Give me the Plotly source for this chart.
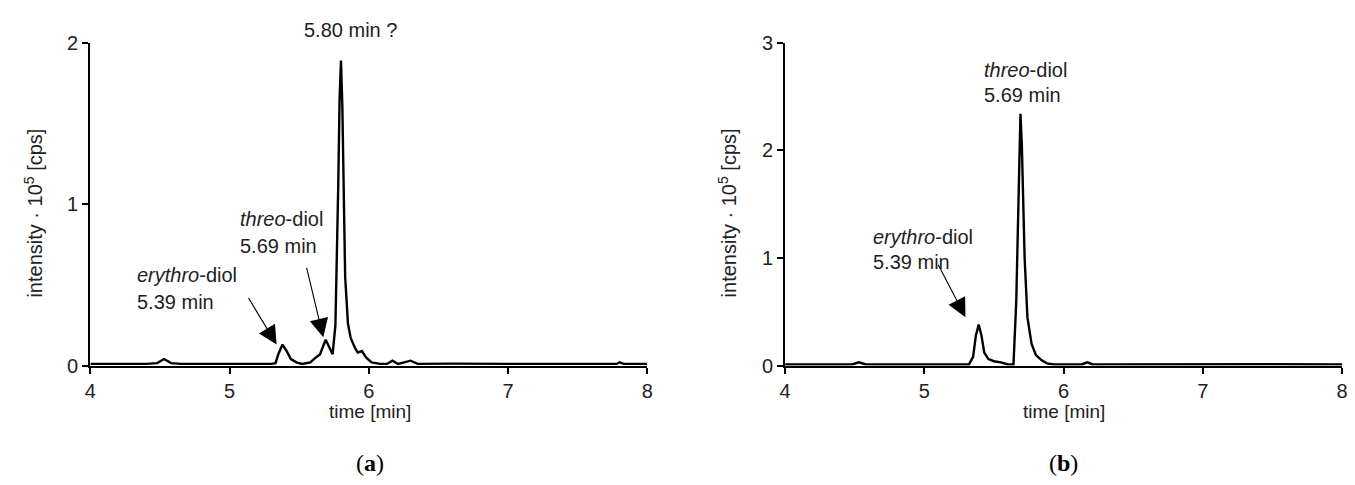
import plotly.graph_objects as go

# ---- data: panel (a) ----
time_a = [4.00, 4.20, 4.40, 4.48, 4.53, 4.58, 4.65, 5.00, 5.30, 5.33, 5.35, 5.38, 5.41, 5.44,
          5.48, 5.52, 5.58, 5.62, 5.65, 5.69, 5.72, 5.74, 5.76, 5.77, 5.78, 5.79, 5.80, 5.81,
          5.82, 5.83, 5.85, 5.87, 5.90, 5.92, 5.95, 5.98, 6.02, 6.08, 6.13, 6.17, 6.21, 6.26,
          6.30, 6.35, 6.60, 7.00, 7.40, 7.78, 7.80, 7.83, 8.00]
intensity_a = [0.01, 0.01, 0.01, 0.015, 0.04, 0.015, 0.01, 0.01, 0.01, 0.015, 0.07, 0.13, 0.09, 0.04,
               0.02, 0.01, 0.02, 0.05, 0.07, 0.16, 0.10, 0.07, 0.25, 0.6, 1.1, 1.65, 1.89, 1.6,
               1.0, 0.55, 0.26, 0.17, 0.11, 0.08, 0.09, 0.05, 0.02, 0.01, 0.01, 0.03, 0.01, 0.02,
               0.03, 0.01, 0.012, 0.01, 0.012, 0.01, 0.02, 0.01, 0.01]

# ---- data: panel (b) ----
time_b = [4.00, 4.20, 4.48, 4.53, 4.58, 5.00, 5.32, 5.35, 5.37, 5.39, 5.41, 5.43, 5.46, 5.50,
          5.55, 5.60, 5.64, 5.66, 5.68, 5.69, 5.70, 5.72, 5.74, 5.77, 5.80, 5.84, 5.88, 5.93,
          6.13, 6.17, 6.21, 6.60, 7.00, 7.50, 8.00]
intensity_b = [0.01, 0.01, 0.01, 0.03, 0.01, 0.01, 0.01, 0.08, 0.28, 0.38, 0.28, 0.12, 0.06, 0.04,
               0.03, 0.01, 0.01, 0.6, 2.0, 2.34, 2.05, 1.0, 0.45, 0.2, 0.1, 0.05, 0.02, 0.01,
               0.01, 0.03, 0.01, 0.012, 0.01, 0.012, 0.01]

x_ticks = [4, 5, 6, 7, 8]
y_ticks_a = [0, 1, 2]
y_ticks_b = [0, 1, 2, 3]

W, H = 1355, 485
FONT = "Liberation Sans"
TXT = "#222"

fig = go.Figure()
fig.add_trace(go.Scatter(x=time_a, y=intensity_a, mode="lines",
                         line=dict(color="black", width=2.4), xaxis="x", yaxis="y",
                         showlegend=False, hoverinfo="skip"))
fig.add_trace(go.Scatter(x=time_b, y=intensity_b, mode="lines",
                         line=dict(color="black", width=2.4), xaxis="x2", yaxis="y2",
                         showlegend=False, hoverinfo="skip"))

ydom = [1 - 363 / H, 1 - 25 / H]
axis_common = dict(showline=True, linecolor="black", linewidth=2.2, ticks="outside",
                   ticklen=6, tickwidth=2.2, tickcolor="black", showgrid=False, zeroline=False,
                   tickfont=dict(family=FONT, size=20, color=TXT))

fig.update_layout(
    width=W, height=H, margin=dict(l=0, r=0, t=0, b=0),
    plot_bgcolor="white", paper_bgcolor="white",
    xaxis=dict(domain=[77 / W, 639 / W], range=[4, 8], tickvals=x_ticks, anchor="y", **axis_common),
    yaxis=dict(domain=ydom, range=[0, 2], tickvals=y_ticks_a, anchor="x", **axis_common),
    xaxis2=dict(domain=[778 / W, 1340 / W], range=[4, 8], tickvals=x_ticks, anchor="y2", **axis_common),
    yaxis2=dict(domain=ydom, range=[0, 3], tickvals=y_ticks_b, anchor="x2", **axis_common),
)

ann = []
tf = dict(family=FONT, size=20, color=TXT)


def P(px, py):
    return px / W, 1 - py / H


def txt(text, px, py, xanchor="left", font=tf, **kw):
    x, y = P(px, py)
    ann.append(dict(text=text, x=x, y=y, xref="paper", yref="paper", xanchor=xanchor,
                    yanchor="middle", showarrow=False, font=font, **kw))


def arrow(x, y, ax, ay, xref, yref):
    ann.append(dict(text="", x=x, y=y, ax=ax, ay=ay, xref=xref, yref=yref,
                    showarrow=True, arrowhead=2, arrowsize=3.4, arrowwidth=1.1,
                    arrowcolor="black"))


# panel (a)
txt("5.80 min ?", 340, 12, xanchor="center")
txt("<i>threo</i>-diol", 226, 210)
txt("5.69 min", 226, 238)
txt("<i>erythro</i>-diol", 122, 268)
txt("5.39 min", 122, 296)
arrow(5.338, 0.13, -29, -48, "x", "y")
arrow(5.673, 0.175, -17, -71, "x", "y")

# panel (b)
txt("<i>threo</i>-diol", 977, 53)
txt("5.69 min", 977, 80)
txt("<i>erythro</i>-diol", 865, 228)
txt("5.39 min", 865, 255)
arrow(5.295, 0.45, -28, -54, "x2", "y2")

# axis titles
for cx in (359, 1059):
    txt("time [min]", cx, 411, xanchor="center", font=dict(family=FONT, size=19, color=TXT))
for cx in (20, 720):
    txt("intensity · 10<sup>5</sup> [cps]", cx, 203, xanchor="center", textangle=-90,
        font=dict(family=FONT, size=20, color=TXT))

# captions
capfont = dict(family="Liberation Serif", size=24, color="black")
txt("(<b>a</b>)", 359, 465, xanchor="center", font=capfont)
txt("(<b>b</b>)", 1059, 465, xanchor="center", font=capfont)

fig.update_layout(annotations=ann)
fig.write_html("out.html")
